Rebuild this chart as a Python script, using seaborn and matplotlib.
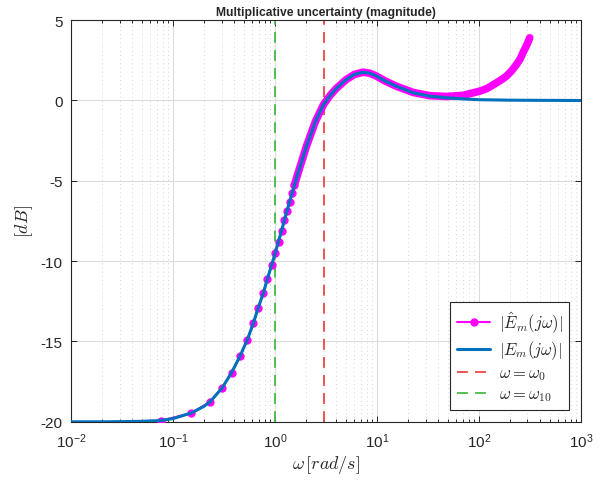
import matplotlib.pyplot as plt
import seaborn as sns

# frequency grid points of the estimated response that show as separate dots [rad/s]
w_dots = [0.076, 0.152, 0.231, 0.304, 0.376, 0.454, 0.535, 0.614, 0.687, 0.769,
          0.841, 0.927, 1.007, 1.085, 1.162, 1.24, 1.317, 1.395, 1.472, 1.55]
db_dots = [-19.94, -19.45, -18.76, -17.89, -16.94, -15.92, -14.91, -13.87, -12.89, -12.0,
           -11.13, -10.26, -9.5, -8.78, -8.1, -7.46, -6.86, -6.3, -5.78, -5.28]

# dense part of the estimate (dots merge into a band)
w_band = [1.55, 1.7, 2.04, 2.5, 3.0, 3.46, 4.0, 5.0, 6.0, 7.3, 8.5, 9.9, 12, 15.5,
          22.7, 33, 48, 70, 102, 119, 149, 170, 186, 210, 234, 255, 272, 295, 316]
db_band = [-5.28, -4.45, -2.84, -1.3, -0.25, 0.3, 0.75, 1.3, 1.62, 1.76, 1.7, 1.52, 1.22, 0.89,
           0.5, 0.3, 0.25, 0.32, 0.58, 0.73, 1.1, 1.33, 1.51, 1.85, 2.24, 2.6, 3.0, 3.45, 3.9]

# true multiplicative uncertainty
w_nom = [0.01, 0.02, 0.03, 0.05, 0.076, 0.1, 0.152, 0.2, 0.231, 0.304, 0.376, 0.454,
         0.535, 0.614, 0.687, 0.769, 0.841, 0.927, 1.007, 1.162, 1.317, 1.472, 1.7, 2.04,
         2.5, 3.0, 3.46, 4.0, 5.0, 6.0, 7.3, 8.5, 9.9, 12, 15.5, 22.7, 33, 48, 70, 100,
         200, 400, 1000]
db_nom = [-20.0, -20.0, -19.99, -19.97, -19.92, -19.8, -19.45, -19.05, -18.76, -17.89, -16.94, -15.92,
          -14.91, -13.87, -12.89, -12.0, -11.13, -10.26, -9.5, -8.1, -6.86, -5.78, -4.45, -2.84,
          -1.3, -0.25, 0.3, 0.75, 1.3, 1.62, 1.76, 1.7, 1.52, 1.22, 0.89, 0.48, 0.27, 0.17, 0.1, 0.05,
          0.02, 0.01, 0.0]

w0 = 3.0
w10 = 1.0

xticks = [1e-2, 1e-1, 1e0, 1e1, 1e2, 1e3]
xtick_labels = [r'$\mathregular{10^{-2}}$', r'$\mathregular{10^{-1}}$', r'$\mathregular{10^{0}}$',
                r'$\mathregular{10^{1}}$', r'$\mathregular{10^{2}}$', r'$\mathregular{10^{3}}$']
yticks = [-20, -15, -10, -5, 0, 5]

sns.set_style('ticks')
plt.rcParams['font.family'] = ['Liberation Sans', 'DejaVu Sans']
plt.rcParams['mathtext.fontset'] = 'cm'
plt.rcParams['axes.unicode_minus'] = False

fig = plt.figure(figsize=(6.12, 4.81), dpi=100)
ax = fig.add_axes([0.116, 0.121, 0.833, 0.835])

sns.lineplot(x=w_dots, y=db_dots, ax=ax, color='#FF00FF', lw=1.5, marker='o', markersize=6,
             markeredgewidth=0, label=r'$|\hat{E}_m(j\omega)|$', zorder=3)
sns.lineplot(x=w_band, y=db_band, ax=ax, color='#FF00FF', lw=5.5, solid_capstyle='round',
             zorder=3, legend=False)
sns.lineplot(x=w_nom, y=db_nom, ax=ax, color='#0072BD', lw=2.2, label=r'$|E_m(j\omega)|$', zorder=4)
ax.axvline(w0, color='#EE4444', lw=1.3, ls=(0, (6, 4)), label=r'$\omega = \omega_0$', zorder=2)
ax.axvline(w10, color='#44BB44', lw=1.3, ls=(0, (6, 4)), label=r'$\omega = \omega_{10}$', zorder=2)

ax.set_xscale('log')
ax.set_xlim(1e-2, 1e3)
ax.set_ylim(-20, 5)
ax.set_xticks(xticks)
ax.set_xticklabels(xtick_labels)
ax.set_yticks(yticks)
ax.tick_params(which='both', direction='in', top=True, right=True, labelsize=11,
               colors='#262626', width=0.7)
ax.tick_params(which='major', length=4)
ax.tick_params(which='minor', length=2.5)
ax.tick_params(axis='x', pad=7)
ax.tick_params(axis='y', pad=6)
ax.grid(which='major', color='#dcdcdc', lw=0.8)
ax.grid(which='minor', axis='x', color='#c4c4c4', lw=0.6, ls=(0, (1, 4)))
ax.set_axisbelow(True)
for s in ax.spines.values():
    s.set_color('#262626')
    s.set_linewidth(0.8)

ax.set_title('Multiplicative uncertainty (magnitude)', fontsize=8.7, fontweight='bold', pad=4)
ax.set_xlabel(r'$\omega\,[rad/s]$', fontsize=13, labelpad=2)
ax.set_ylabel(r'$[dB]$', fontsize=13, labelpad=4)

leg = ax.legend(loc='lower right', fontsize=12, frameon=True, fancybox=False, framealpha=1,
                edgecolor='#262626', handlelength=2.0, handletextpad=0.5, borderpad=0.4,
                borderaxespad=0.7, labelspacing=0.25)
leg.get_frame().set_linewidth(0.8)

fig.savefig('out.png', dpi=100)
